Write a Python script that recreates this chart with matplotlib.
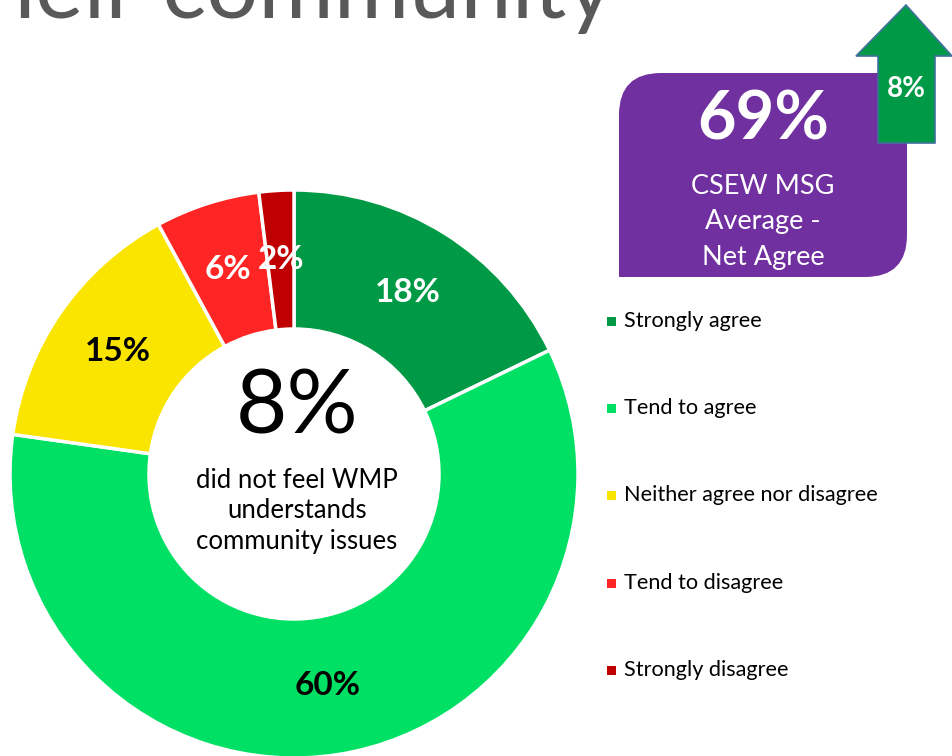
import numpy as np
import matplotlib.pyplot as plt
from matplotlib.patches import FancyBboxPatch, Rectangle, Polygon

plt.rcParams['font.family'] = ['Lato', 'DejaVu Sans']

# дані діаграми
categories = ['Strongly agree', 'Tend to agree', 'Neither agree nor disagree',
              'Tend to disagree', 'Strongly disagree']
values = [18, 60, 15, 6, 2]
colors = ['#009A46', '#00E064', '#FAE500', '#FF2525', '#C00000']
label_colors = ['white', 'black', 'black', 'white', 'white']
msg_average = 69
change = 8
disagree_share = 8

W, H = 953, 756
fig = plt.figure(figsize=(W / 100, H / 100), dpi=100)
ax = fig.add_axes([0, 0, 1, 1])

# кільцева діаграма
cx, cy, r_out, r_in = 294, H - 474, 284, 145
wedges, _ = ax.pie(values, colors=colors, startangle=90, counterclock=False,
                   center=(cx, cy), radius=r_out,
                   wedgeprops=dict(width=r_out - r_in, edgecolor='white', linewidth=2.5))
r_mid = (r_out + r_in) / 2
for w, v, c in zip(wedges, values, label_colors):
    a = np.deg2rad((w.theta1 + w.theta2) / 2)
    ax.text(cx + r_mid * np.cos(a), cy + r_mid * np.sin(a), f'{v}%',
            ha='center', va='center', fontsize=24, fontweight='bold', color=c)

ax.set_xlim(0, W)
ax.set_ylim(0, H)
ax.set_aspect('equal')
ax.axis('off')

# текст у центрі
ax.text(cx + 3, H - 408, f'{disagree_share}%', ha='center', va='center', fontsize=64)
ax.text(cx + 3, H - 511, 'did not feel WMP\nunderstands\ncommunity issues',
        ha='center', va='center', fontsize=18.5, linespacing=1.3)

# заголовок (обрізаний, як на слайді)
ax.text(614, H - 18, 'their community', ha='right', va='baseline',
        fontsize=66, color='#595959')

# фіолетовий блок
box_x0, box_y0, box_x1, box_y1 = 619, H - 277, 907, H - 73
purple = '#7030A0'
ax.add_patch(FancyBboxPatch((box_x0, box_y0), box_x1 - box_x0, box_y1 - box_y0,
                            boxstyle='round,pad=0,rounding_size=42',
                            facecolor=purple, edgecolor='none'))
ax.add_patch(Rectangle((box_x1 - 50, box_y1 - 50), 50, 50, facecolor=purple, edgecolor='none'))
ax.add_patch(Rectangle((box_x0, box_y0), 50, 50, facecolor=purple, edgecolor='none'))
ax.text(763, H - 120, f'{msg_average}%', ha='center', va='center',
        fontsize=48, fontweight='bold', color='white')
ax.text(763, H - 222, 'CSEW MSG\nAverage -\nNet Agree', ha='center', va='center',
        fontsize=19.5, color='white', linespacing=1.5)

# зелена стрілка
arrow = Polygon([(878, H - 143), (935, H - 143), (935, H - 56), (952, H - 56),
                 (906, H - 5), (856, H - 56), (878, H - 56)],
                closed=True, facecolor='#009A46', edgecolor='#41719C', linewidth=1.2)
ax.add_patch(arrow)
ax.text(906, H - 89, f'{change}%', ha='center', va='center',
        fontsize=20, fontweight='bold', color='white')

# легенда
leg_y = [321, 408, 495, 583, 670]
for cat, col, y in zip(categories, colors, leg_y):
    ax.add_patch(Rectangle((607, H - y - 5), 9, 9, facecolor=col, edgecolor='none'))
    ax.text(624, H - y, cat, ha='left', va='center', fontsize=15.6, color='black')

fig.savefig('out.png', dpi=100)
